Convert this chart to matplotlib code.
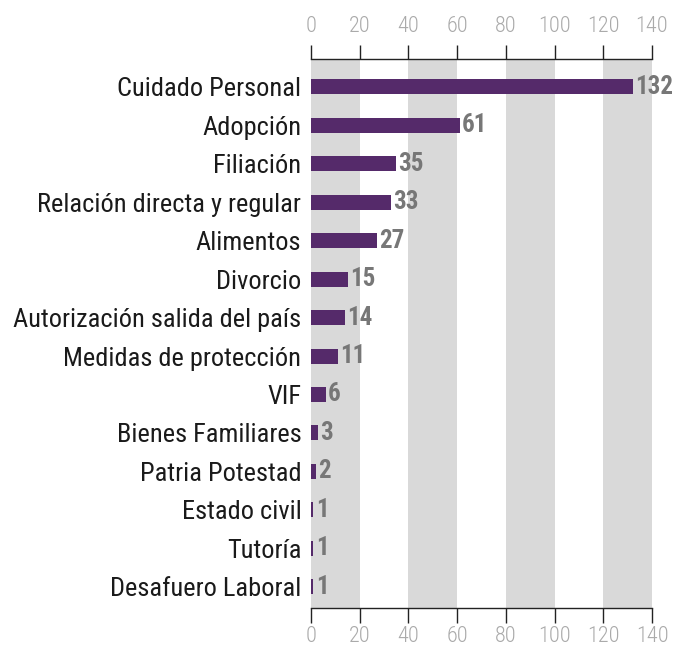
import matplotlib
matplotlib.use("Agg")
import matplotlib.pyplot as plt
from matplotlib import font_manager

categories = ["Cuidado Personal", "Adopción", "Filiación", "Relación directa y regular",
              "Alimentos", "Divorcio", "Autorización salida del país", "Medidas de protección",
              "VIF", "Bienes Familiares", "Patria Potestad", "Estado civil", "Tutoría",
              "Desafuero Laboral"]
values = [132, 61, 35, 33, 27, 15, 14, 11, 6, 3, 2, 1, 1, 1]
xticks = [0, 20, 40, 60, 80, 100, 120, 140]

names = {f.name for f in font_manager.fontManager.ttflist}
fam = None
for cand in ["Roboto Condensed", "Liberation Sans Narrow", "Open Sans Condensed", "DejaVu Sans"]:
    if cand in names:
        fam = cand
        break
plt.rcParams['font.family'] = [fam, 'DejaVu Sans']
plt.rcParams['font.stretch'] = 'condensed'

fig = plt.figure(figsize=(6.73, 6.5), dpi=100)
ax = fig.add_axes([311/673, 1 - 608/650, (652-311)/673, (608-59)/650])

for i in range(0, 140, 40):
    ax.axvspan(i, i + 20, color="#d9d9d9", zorder=0, lw=0)

y = list(range(len(categories)))
ax.barh(y, values, height=0.39, color="#552a6a", zorder=2)
for yi, v in zip(y, values):
    ax.text(v + 0.9, yi, str(v), va="center", ha="left", fontsize=18,
            fontweight="bold", color="#777777", zorder=3, fontstretch="condensed")

ax.set_xlim(0, 140)
ax.set_ylim(13.55, -0.72)
ax.set_yticks(y)
ax.set_yticklabels(categories, fontsize=19, color="#1a1a1a", fontstretch="condensed")
ax.set_xticks(xticks)
ax.set_xticklabels([str(t) for t in xticks], fontsize=16, color="#aaaaaa",
                   fontweight="light", fontstretch="condensed")
ax.tick_params(axis="x", length=11, pad=2, direction="out", color="#222222", width=1)
ax.tick_params(axis="y", length=0, pad=7)

sec = ax.secondary_xaxis("top")
sec.set_xticks(xticks)
sec.set_xticklabels([str(t) for t in xticks], fontsize=16, color="#aaaaaa",
                    fontweight="light", fontstretch="condensed")
sec.tick_params(axis="x", length=10, pad=6, direction="out", color="#222222", width=1)
sec.spines["top"].set_color("#222222")
sec.spines["top"].set_linewidth(1)

for s in ["left", "right", "top"]:
    ax.spines[s].set_visible(False)
ax.spines["bottom"].set_color("#222222")
ax.spines["bottom"].set_linewidth(1)

fig.savefig("out.png", dpi=100)
